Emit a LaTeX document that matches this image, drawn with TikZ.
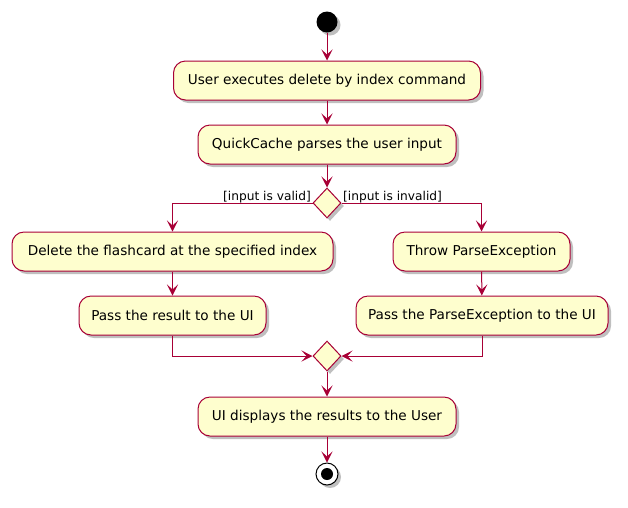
\documentclass[tikz,border=0pt]{standalone}
\usepackage{fontspec}
\setmainfont{DejaVu Sans}
\usetikzlibrary{shapes.geometric,arrows.meta,shadows}
\definecolor{pfill}{HTML}{FEFECE}
\definecolor{pline}{HTML}{A80036}
\begin{document}
\begin{tikzpicture}[x=1pt,y=-1pt,
  act/.style={rectangle, rounded corners=12pt, draw=pline, fill=pfill, line width=1pt,
    minimum height=39pt, inner sep=0pt, font=\fontsize{13.6}{16}\selectfont,
    drop shadow={shadow xshift=3pt, shadow yshift=-3pt, opacity=0.25, fill=black}},
  dec/.style={diamond, draw=pline, fill=pfill, line width=1pt, minimum width=28pt,
    minimum height=30pt, inner sep=0pt,
    drop shadow={shadow xshift=3pt, shadow yshift=-3pt, opacity=0.25, fill=black}},
  arr/.style={draw=pline, line width=1pt, -{Stealth[length=11pt,width=11pt,inset=5pt]}},
  lbl/.style={font=\fontsize{12.2}{14}\selectfont, inner sep=1pt, text=black}
]
\useasboundingbox (0,0) rectangle (628,507);
\node[circle, fill=black, minimum size=21pt, inner sep=0pt,
  drop shadow={shadow xshift=3pt, shadow yshift=-3pt, opacity=0.25, fill=black}] (start) at (327,22) {};
\node[act, minimum width=307pt] (a1) at (327,80.5) {User executes delete by index command};
\node[act, minimum width=258pt] (a2) at (327,144.5) {QuickCache parses the user input};
\node[dec] (d1) at (327,203) {};
\node[lbl, anchor=south east] (l1) at (312,204) {[input is valid]};
\node[lbl, anchor=south west] (l2) at (342,204) {[input is invalid]};
\node[act, minimum width=321pt] (a3) at (172.5,251.5) {Delete the flashcard at the specified index};
\node[act, minimum width=187pt] (a4) at (172.5,315.5) {Pass the result to the UI};
\node[act, minimum width=177pt] (a5) at (481.5,251.5) {Throw ParseException};
\node[act, minimum width=252pt] (a6) at (482,315.5) {Pass the ParseException to the UI};
\node[dec] (d2) at (327,356) {};
\node[act, minimum width=258pt] (a7) at (327,416.5) {UI displays the results to the User};
\node[circle, draw=black, line width=1pt, fill=white, minimum size=22pt, inner sep=0pt,
  drop shadow={shadow xshift=3pt, shadow yshift=-3pt, opacity=0.25, fill=black}] (stop) at (327,474) {};
\node[circle, fill=black, minimum size=12pt, inner sep=0pt] (stopin) at (stop.center) {};

\draw[arr] (start) -- (a1);
\draw[arr] (a1) -- (a2);
\draw[arr] (a2) -- (d1);
\draw[arr] (d1.west) -| (a3.north);
\draw[arr] (d1.east) -| (a5.north);
\draw[arr] (a3) -- (a4);
\draw[arr] (a5) -- (a6);
\draw[arr] (a4.south) |- (d2.west);
\draw[arr] (a6.south) |- (d2.east);
\draw[arr] (d2) -- (a7);
\draw[arr] (a7) -- (stop);
\end{tikzpicture}
\end{document}
